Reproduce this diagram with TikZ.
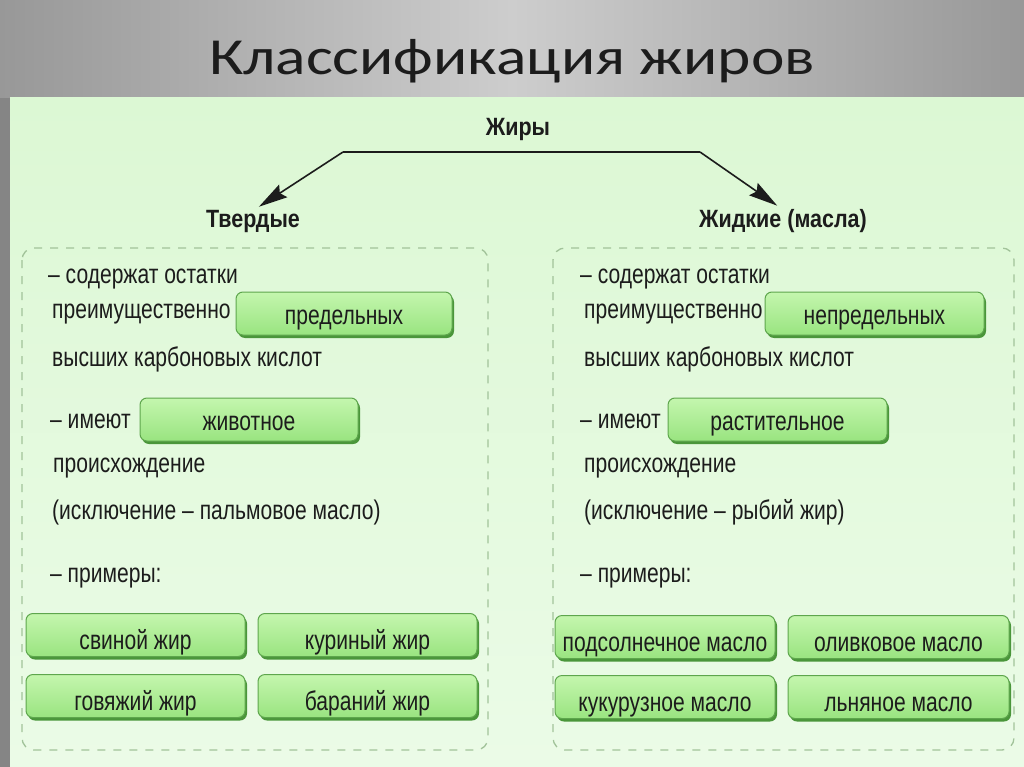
\documentclass[tikz,border=0pt]{standalone}
\usepackage{fontspec}
\setmainfont{Liberation Sans}
\newfontfamily\titlefont[FakeStretch=1.22]{Carlito}
\newfontfamily\dfont[FakeStretch=0.78]{Liberation Sans}
\newfontfamily\hfont[FakeStretch=0.86]{Liberation Sans}
\usetikzlibrary{arrows.meta,shadows}
\definecolor{txtc}{HTML}{1C1C1C}
\definecolor{panelA}{HTML}{DCF8D4}
\definecolor{panelB}{HTML}{EBFBE7}
\definecolor{grayA}{HTML}{989898}
\definecolor{grayB}{HTML}{CDCDCD}
\definecolor{stripc}{HTML}{858585}
\definecolor{dashc}{HTML}{A2C39A}
\definecolor{boxtop}{HTML}{C4F6AE}
\definecolor{boxbot}{HTML}{99E480}
\definecolor{boxline}{HTML}{5EA64D}
\definecolor{boxshadow}{HTML}{4A963A}
\tikzset{
  txt/.style={font=\dfont\fontsize{27}{30}\selectfont, text=txtc, inner sep=0pt, anchor=base west},
  head/.style={font=\hfont\bfseries\fontsize{25}{28}\selectfont, text=txtc, inner sep=0pt, anchor=base},
  gbox/.style={draw=boxline, line width=1pt, rounded corners=7pt,
    top color=boxtop, bottom color=boxbot,
    minimum height=43pt, minimum width=#1,
    font=\dfont\fontsize{27}{30}\selectfont, text=txtc, inner sep=0pt,
    text height=29pt, text depth=0pt,
    drop shadow={shadow xshift=2pt, shadow yshift=-3pt, fill=boxshadow, opacity=1}},
  gbox/.default=219pt,
  tbox/.style={gbox=#1, text height=22pt},
  tbox/.default=219pt,
  dbox/.style={draw=dashc, line width=1.3pt, dash pattern=on 8pt off 8pt, rounded corners=12pt},
  arr/.style={draw=txtc, line width=1.6pt, -{Stealth[length=29pt,width=15pt,inset=4pt]}},
  conn/.style={draw=txtc, line width=1.6pt}
}
\begin{document}
\begin{tikzpicture}[x=1pt,y=-1pt]
\useasboundingbox (0,0) rectangle (1024,767);
% background
\shade[left color=grayA, right color=grayA, middle color=grayB] (0,0) rectangle (1024,98);
\fill[stripc] (0,98) rectangle (10,767);
\shade[top color=panelA, bottom color=panelB] (10,98) rectangle (1024,767);
% title
\node[font=\titlefont\fontsize{52}{58}\selectfont, text=txtc, inner sep=0pt, anchor=base] (title) at (512,75) {Классификация жиров};
% heads
\node[head] (fats) at (518,136) {Жиры};
\node[head] (solid) at (253,228) {Твердые};
\node[head] (liquid) at (783,228) {Жидкие (масла)};
\coordinate (jL) at (343,152);
\coordinate (jR) at (700,152);
\draw[conn] (jL) -- (jR);
\draw[arr, shorten >=7pt] (jL) -- (solid.north);
\draw[arr, shorten >=7pt] (jR) -- (liquid.north);
% dashed boxes
\draw[dbox] (22,248) rectangle (488,750);
\draw[dbox] (553,248) rectangle (1014,750);
% left text
\node[txt] (l1) at (48,283) {– содержат остатки};
\node[txt] (l2) at (52,318) {преимущественно};
\node[tbox=216pt] (pred) at (344,313.5) {предельных};
\node[txt] (l3) at (52,366) {высших карбоновых кислот};
\node[txt] (l4) at (50,428) {– имеют};
\node[tbox=218pt] (ziv) at (249,419.5) {животное};
\node[txt] (l5) at (53,472) {происхождение};
\node[txt] (l6) at (52,519) {(исключение – пальмовое масло)};
\node[txt] (l7) at (50,582) {– примеры:};
\node[gbox] (svin) at (135.5,635) {свиной жир};
\node[gbox] (kur) at (367.5,635) {куриный жир};
\node[gbox] (gov) at (135.5,696) {говяжий жир};
\node[gbox] (bar) at (367.5,696) {бараний жир};
% right text
\node[txt] (r1) at (580,283) {– содержат остатки};
\node[txt] (r2) at (584,318) {преимущественно};
\node[tbox] (nepred) at (874.5,313.5) {непредельных};
\node[txt] (r3) at (584,366) {высших карбоновых кислот};
\node[txt] (r4) at (580,428) {– имеют};
\node[tbox] (rast) at (777.5,419.5) {растительное};
\node[txt] (r5) at (584,472) {происхождение};
\node[txt] (r6) at (584,519) {(исключение – рыбий жир)};
\node[txt] (r7) at (580,582) {– примеры:};
\node[gbox=220pt] (pods) at (665,637) {подсолнечное масло};
\node[gbox=221pt] (oliv) at (898.5,637) {оливковое масло};
\node[gbox=220pt] (kuk) at (665,697) {кукурузное масло};
\node[gbox=221pt] (lny) at (898.5,697) {льняное масло};
\end{tikzpicture}
\end{document}
